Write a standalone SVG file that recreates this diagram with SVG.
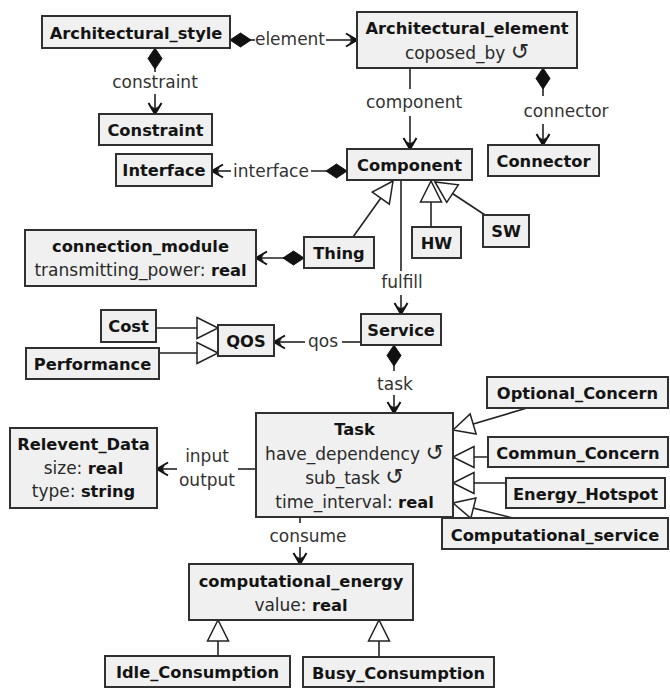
<svg xmlns="http://www.w3.org/2000/svg" width="670" height="688" viewBox="0 0 670 688">
  <style>
    .box { fill: #f0f0f0; stroke: #303030; stroke-width: 2; }
    .t { font-family: "DejaVu Sans", Verdana, sans-serif; font-size: 16.3px; font-weight: bold; fill: #141414; text-anchor: middle; }
    .a { font-family: "DejaVu Sans", Verdana, sans-serif; font-size: 17px; fill: #2a2a2a; text-anchor: middle; }
    .a tspan.b { font-weight: bold; fill: #141414; font-size: 16.3px; }
    .a tspan.r { font-size: 22px; }
    .lbl { font-family: "DejaVu Sans", Verdana, sans-serif; font-size: 17px; fill: #333; text-anchor: middle; }
    .ln { fill: none; stroke: #222; stroke-width: 1.6; }
    .comp { marker-start: url(#diamond); }
    .nav { marker-end: url(#arrow); }
    .gen { marker-end: url(#tri); }
  </style>
  <defs>
    <!-- filled composition diamond, drawn from the owner side -->
    <marker id="diamond" markerUnits="userSpaceOnUse" viewBox="-1 -8 24 16" markerWidth="24" markerHeight="16" refX="0" refY="0" orient="auto">
      <path d="M0,0 L10.5,-7 L21,0 L10.5,7 Z" fill="#111" stroke="#111" stroke-width="1"/>
    </marker>
    <!-- navigable end arrow -->
    <marker id="arrow" markerUnits="userSpaceOnUse" viewBox="-13 -8 15 16" markerWidth="15" markerHeight="16" refX="0" refY="0" orient="auto">
      <path d="M-11,-6.5 L0,0 L-11,6.5" fill="none" stroke="#111" stroke-width="2"/>
      <path d="M0,0 L-8,-3.5 L-5.5,0 L-8,3.5 Z" fill="#111"/>
    </marker>
    <!-- hollow generalization triangle -->
    <marker id="tri" markerUnits="userSpaceOnUse" viewBox="-24 -12 26 24" markerWidth="26" markerHeight="24" refX="0" refY="0" orient="auto">
      <path d="M0,0 L-21,-10.5 L-21,10.5 Z" fill="#fff" stroke="#222" stroke-width="1.5"/>
    </marker>
  </defs>
  <rect width="670" height="688" fill="#fff"/>

  <!-- connectors -->
  <g id="connectors">
    <!-- element -->
    <path class="ln comp" d="M230,40 H255"/>
    <path class="ln nav" d="M326,40 H357"/>
    <text class="lbl" x="290" y="45">element</text>
    <!-- constraint -->
    <path class="ln comp" d="M155,48 V72"/>
    <path class="ln nav" d="M155,94 V114"/>
    <text class="lbl" x="155" y="88">constraint</text>
    <!-- component -->
    <path class="ln" d="M410,68 V89"/>
    <path class="ln nav" d="M410,116 V149"/>
    <text class="lbl" x="414" y="108">component</text>
    <!-- connector -->
    <path class="ln comp" d="M543,68 V96"/>
    <path class="ln nav" d="M543,124 V145"/>
    <text class="lbl" x="566" y="117">connector</text>
    <!-- interface -->
    <path class="ln comp" d="M347,171 H311"/>
    <path class="ln nav" d="M231,171 H212"/>
    <text class="lbl" x="271" y="177">interface</text>
    <!-- Thing to connection_module -->
    <path class="ln comp nav" d="M304,258 H256"/>
    <!-- fulfill -->
    <path class="ln" d="M401,180 V271"/>
    <path class="ln nav" d="M401,295 V314"/>
    <text class="lbl" x="402" y="288">fulfill</text>
    <!-- qos -->
    <path class="ln" d="M361,342 H342"/>
    <path class="ln nav" d="M305,342 H274"/>
    <text class="lbl" x="323" y="347">qos</text>
    <!-- task -->
    <path class="ln comp" d="M394,345 V371"/>
    <path class="ln nav" d="M394,395 V413"/>
    <text class="lbl" x="395" y="390">task</text>
    <!-- input / output -->
    <path class="ln" d="M256,469 H238"/>
    <path class="ln nav" d="M177,469 H157"/>
    <text class="lbl" x="207" y="462">input</text>
    <text class="lbl" x="207" y="486">output</text>
    <!-- consume -->
    <path class="ln" d="M300,517 V523"/>
    <path class="ln nav" d="M300,547 V564"/>
    <text class="lbl" x="308" y="542">consume</text>

    <!-- generalizations -->
    <path class="ln gen" d="M353,237 L393,181"/>
    <path class="ln gen" d="M431,227 V181"/>
    <path class="ln gen" d="M485,215 L435,182"/>
    <path class="ln gen" d="M156,328 H218"/>
    <path class="ln gen" d="M159,353 H218"/>
    <path class="ln gen" d="M527,408 L453,430"/>
    <path class="ln gen" d="M488,457 H453"/>
    <path class="ln gen" d="M506,483 H453"/>
    <path class="ln gen" d="M517,519 L453,503"/>
    <path class="ln gen" d="M218,656 V620"/>
    <path class="ln gen" d="M379,657 V620"/>
  </g>

  <!-- nodes -->
  <g id="Architectural_style">
    <rect class="box" x="42" y="16" width="188" height="32"/>
    <text class="t" x="136" y="39">Architectural_style</text>
  </g>
  <g id="Architectural_element">
    <rect class="box" x="357" y="12" width="220" height="56"/>
    <text class="t" x="467" y="34">Architectural_element</text>
    <text class="a" x="467" y="59">coposed_by <tspan class="r">↺</tspan></text>
  </g>
  <g id="Constraint">
    <rect class="box" x="99" y="114" width="113" height="31"/>
    <text class="t" x="155.5" y="136">Constraint</text>
  </g>
  <g id="Interface">
    <rect class="box" x="116" y="154" width="96" height="32"/>
    <text class="t" x="164" y="176">Interface</text>
  </g>
  <g id="Component">
    <rect class="box" x="347" y="149" width="125" height="31"/>
    <text class="t" x="409.5" y="171">Component</text>
  </g>
  <g id="Connector">
    <rect class="box" x="488" y="145" width="111" height="31"/>
    <text class="t" x="543.5" y="167">Connector</text>
  </g>
  <g id="connection_module">
    <rect class="box" x="25" y="230" width="231" height="56"/>
    <text class="t" x="140.5" y="252">connection_module</text>
    <text class="a" x="140.5" y="276">transmitting_power: <tspan class="b">real</tspan></text>
  </g>
  <g id="Thing">
    <rect class="box" x="304" y="237" width="70" height="31"/>
    <text class="t" x="339" y="259">Thing</text>
  </g>
  <g id="HW">
    <rect class="box" x="412" y="227" width="49" height="31"/>
    <text class="t" x="436.5" y="249">HW</text>
  </g>
  <g id="SW">
    <rect class="box" x="483" y="215" width="46" height="32"/>
    <text class="t" x="506" y="237">SW</text>
  </g>
  <g id="Cost">
    <rect class="box" x="101" y="310" width="55" height="32"/>
    <text class="t" x="128.5" y="332">Cost</text>
  </g>
  <g id="Performance">
    <rect class="box" x="26" y="348" width="133" height="31"/>
    <text class="t" x="92.5" y="370">Performance</text>
  </g>
  <g id="QOS">
    <rect class="box" x="218" y="325" width="56" height="31"/>
    <text class="t" x="246" y="347">QOS</text>
  </g>
  <g id="Service">
    <rect class="box" x="361" y="314" width="80" height="31"/>
    <text class="t" x="401" y="336">Service</text>
  </g>
  <g id="Task">
    <rect class="box" x="256" y="413" width="197" height="104"/>
    <text class="t" x="354.5" y="435">Task</text>
    <text class="a" x="354.5" y="460">have_dependency <tspan class="r">↺</tspan></text>
    <text class="a" x="354.5" y="484">sub_task <tspan class="r">↺</tspan></text>
    <text class="a" x="354.5" y="508">time_interval: <tspan class="b">real</tspan></text>
  </g>
  <g id="Relevent_Data">
    <rect class="box" x="10" y="428" width="147" height="80"/>
    <text class="t" x="83.5" y="450">Relevent_Data</text>
    <text class="a" x="83.5" y="474">size: <tspan class="b">real</tspan></text>
    <text class="a" x="83.5" y="497">type: <tspan class="b">string</tspan></text>
  </g>
  <g id="Optional_Concern">
    <rect class="box" x="487" y="377" width="181" height="31"/>
    <text class="t" x="577.5" y="399">Optional_Concern</text>
  </g>
  <g id="Commun_Concern">
    <rect class="box" x="488" y="437" width="180" height="30"/>
    <text class="t" x="578" y="459">Commun_Concern</text>
  </g>
  <g id="Energy_Hotspot">
    <rect class="box" x="506" y="478" width="159" height="30"/>
    <text class="t" x="585.5" y="500">Energy_Hotspot</text>
  </g>
  <g id="Computational_service">
    <rect class="box" x="442" y="518" width="226" height="31"/>
    <text class="t" x="555" y="541">Computational_service</text>
  </g>
  <g id="computational_energy">
    <rect class="box" x="189" y="564" width="224" height="56"/>
    <text class="t" x="301" y="587">computational_energy</text>
    <text class="a" x="301" y="611">value: <tspan class="b">real</tspan></text>
  </g>
  <g id="Idle_Consumption">
    <rect class="box" x="105" y="656" width="185" height="31"/>
    <text class="t" x="197.5" y="678">Idle_Consumption</text>
  </g>
  <g id="Busy_Consumption">
    <rect class="box" x="303" y="657" width="191" height="30"/>
    <text class="t" x="398.5" y="679">Busy_Consumption</text>
  </g>
</svg>
